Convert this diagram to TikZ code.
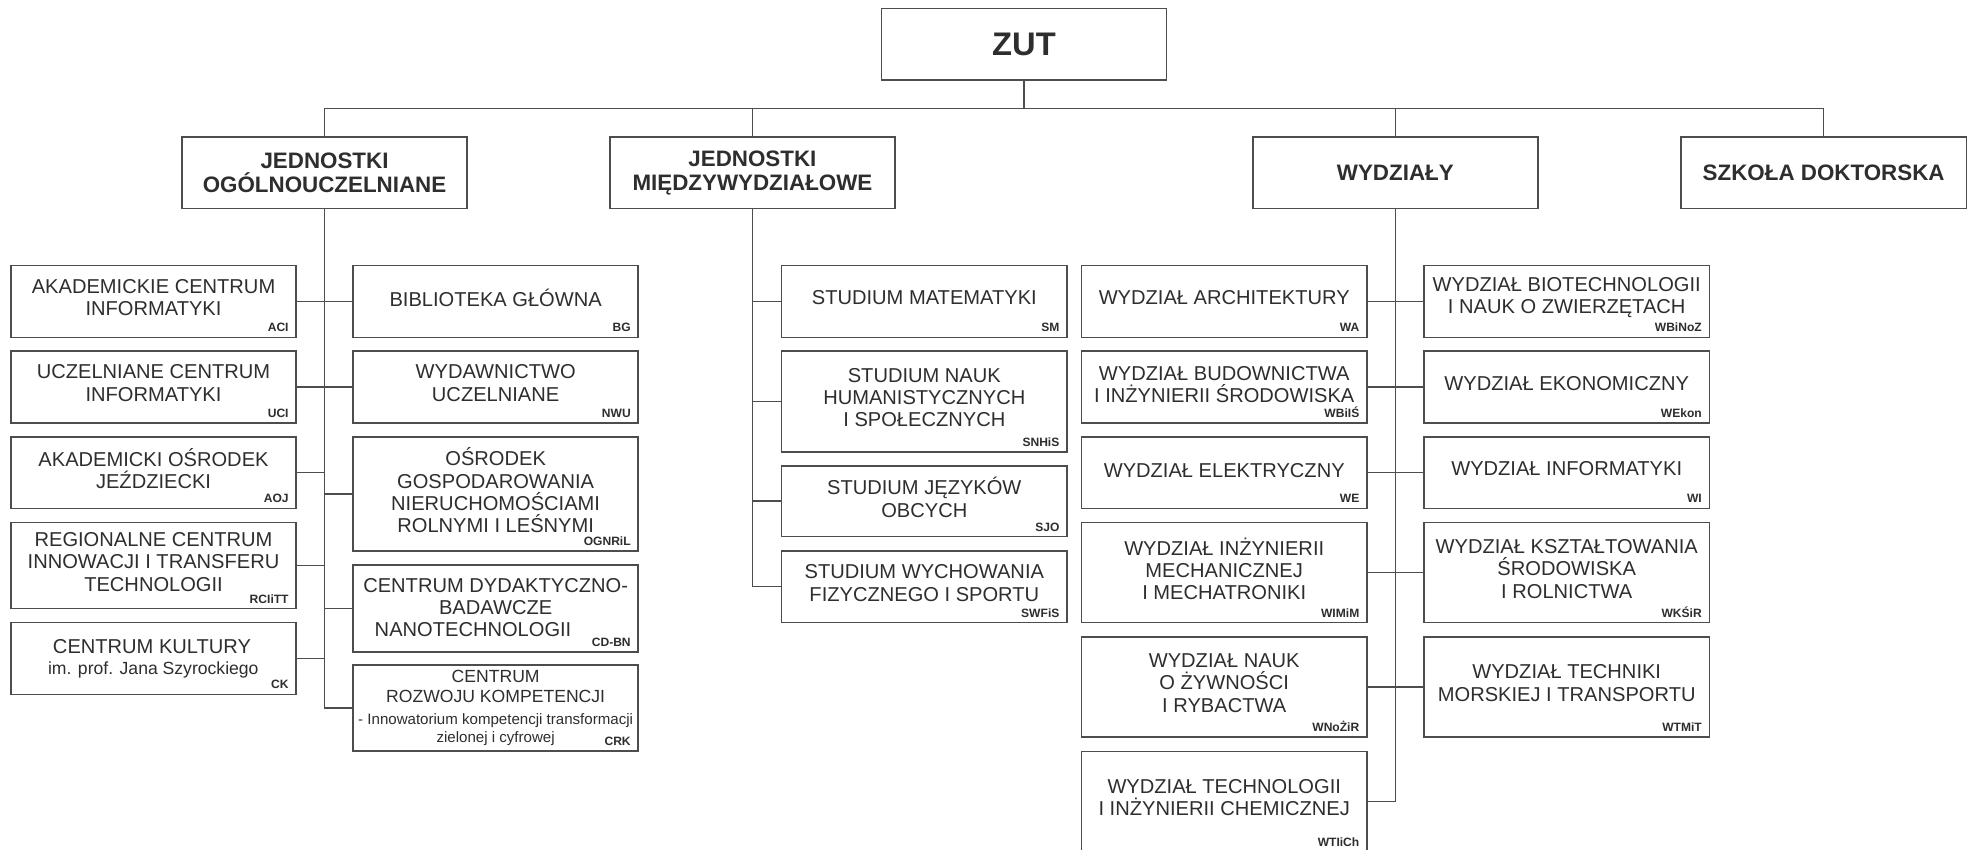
\documentclass[tikz,border=0pt]{standalone}
\usepackage{fontspec}
\setmainfont{Liberation Sans}
\definecolor{linec}{HTML}{4D4D4D}
\definecolor{textc}{HTML}{2E2E2E}
\tikzset{
  orgbox/.style={draw=linec, line width=0.6pt, fill=white, minimum width=113.5pt, inner sep=0pt},
  orgtext/.style={align=center, text=textc, inner sep=0pt, font=\fontsize{8}{8.9}\selectfont},
  orgabbr/.style={text=textc, inner sep=0pt, anchor=base east, font=\bfseries\fontsize{4.8}{5}\selectfont},
  headtext/.style={align=center, text=textc, font=\bfseries\fontsize{8.9}{9.5}\selectfont},
  conn/.style={draw=linec, line width=0.6pt},
}
\newcommand{\orgunit}[7][1.5pt]{%
  \node[orgbox, minimum height=#5] (#2) at (#3,#4) {};
  \node[orgtext] (#2-t) at ([yshift=#1]#2.center) {#6};
  \node[orgabbr] (#2-a) at ([xshift=-3.1pt,yshift=2.5pt]#2.south east) {#7};
}
\begin{document}
\begin{tikzpicture}[x=0.5pt,y=-0.5pt]
\fill[white] (0,0) rectangle (1568,676);
\useasboundingbox (0,0) rectangle (1568,676);

% top level
\node[orgbox, minimum height=28.5pt, text=textc, font=\bfseries\fontsize{13}{14}\selectfont] (zut) at (815,35.15) {ZUT};
\node[orgbox, minimum height=28.5pt, headtext] (jo) at (258.3,137.5) {JEDNOSTKI\\OGÓLNOUCZELNIANE};
\node[orgbox, minimum height=28.5pt, headtext] (jm) at (598.9,137.5) {JEDNOSTKI\\MIĘDZYWYDZIAŁOWE};
\node[orgbox, minimum height=28.5pt, headtext] (wy) at (1110.6,137.5) {WYDZIAŁY};
\node[orgbox, minimum height=28.5pt, headtext] (sd) at (1451.5,137.5) {SZKOŁA DOKTORSKA};
\coordinate (bus) at (0,86.3);

% column A
\orgunit{aci}{122.2}{240}{28.5pt}{AKADEMICKIE CENTRUM\\INFORMATYKI}{ACI}
\orgunit{uci}{122.2}{308}{28.5pt}{UCZELNIANE CENTRUM\\INFORMATYKI}{UCI}
\orgunit{aoj}{122.2}{376.2}{28.5pt}{AKADEMICKI OŚRODEK\\JEŹDZIECKI}{AOJ}
\orgunit{rci}{122.2}{450.2}{34.15pt}{REGIONALNE CENTRUM\\INNOWACJI I TRANSFERU\\TECHNOLOGII}{RCIiTT}
\node[orgbox, minimum height=28.5pt] (ck) at (122.2,524.1) {};
\node[orgtext] (ck-t1) at (121,514.8) {CENTRUM KULTURY};
\node[orgtext, font=\fontsize{7}{8}\selectfont] (ck-t2) at (122,533.4) {im. prof. Jana Szyrockiego};
\node[orgabbr] (ck-a) at ([xshift=-3.1pt,yshift=2.5pt]ck.south east) {CK};

% column B
\orgunit{bg}{394.5}{240}{28.5pt}{BIBLIOTEKA GŁÓWNA}{BG}
\orgunit{nwu}{394.5}{308}{28.5pt}{WYDAWNICTWO\\UCZELNIANE}{NWU}
\orgunit[1.4pt]{og}{394.5}{393.2}{45.5pt}{OŚRODEK\\GOSPODAROWANIA\\NIERUCHOMOŚCIAMI\\ROLNYMI I LEŚNYMI}{OGNRiL}
\orgunit[0.4pt]{cdbn}{394.5}{484.3}{34.5pt}{CENTRUM DYDAKTYCZNO-\\BADAWCZE\\NANOTECHNOLOGII\hspace*{18pt}}{CD-BN}
\node[orgbox, minimum height=34.15pt] (crk) at (394.5,563.5) {};
\node[orgtext, font=\fontsize{7}{8}\selectfont] (crk-t1) at (394.5,546.6) {CENTRUM\\ROZWOJU KOMPETENCJI};
\node[orgtext, font=\fontsize{6}{7.15}\selectfont] (crk-t2) at (394.5,580.5) {- Innowatorium kompetencji transformacji\\zielonej i cyfrowej};
\node[orgabbr] (crk-a) at ([xshift=-3.1pt,yshift=2.5pt]crk.south east) {CRK};

% column C
\orgunit{sm}{735.7}{240}{28.5pt}{STUDIUM MATEMATYKI}{SM}
\orgunit{snhis}{735.7}{319.5}{40.1pt}{STUDIUM NAUK\\HUMANISTYCZNYCH\\I SPOŁECZNYCH}{SNHiS}
\orgunit{sjo}{735.7}{398.9}{28.2pt}{STUDIUM JĘZYKÓW\\OBCYCH}{SJO}
\orgunit{swfis}{735.7}{467}{28.5pt}{STUDIUM WYCHOWANIA\\FIZYCZNEGO I SPORTU}{SWFiS}

% column D
\orgunit{wa}{974.4}{240}{28.5pt}{WYDZIAŁ ARCHITEKTURY}{WA}
\orgunit[1pt]{wbis}{974.4}{308}{28.5pt}{WYDZIAŁ BUDOWNICTWA\\I INŻYNIERII ŚRODOWISKA}{WBiIŚ}
\orgunit[1pt]{we}{974.4}{376.2}{28.5pt}{WYDZIAŁ ELEKTRYCZNY}{WE}
\orgunit{wimim}{974.4}{455.8}{39.8pt}{WYDZIAŁ INŻYNIERII\\MECHANICZNEJ\\I MECHATRONIKI}{WIMiM}
\orgunit{wnozir}{974.4}{546.7}{39.8pt}{WYDZIAŁ NAUK\\O ŻYWNOŚCI\\I RYBACTWA}{WNoŻiR}
\orgunit{wtiich}{974.4}{638}{40pt}{WYDZIAŁ TECHNOLOGII\\I INŻYNIERII CHEMICZNEJ}{WTIiCh}

% column E
\orgunit{wbinoz}{1247}{240}{28.5pt}{WYDZIAŁ BIOTECHNOLOGII\\I NAUK O ZWIERZĘTACH}{WBiNoZ}
\orgunit{wekon}{1247}{308}{28.5pt}{WYDZIAŁ EKONOMICZNY}{WEkon}
\orgunit{wi}{1247}{376.2}{28.5pt}{WYDZIAŁ INFORMATYKI}{WI}
\orgunit{wksir}{1247}{455.8}{39.8pt}{WYDZIAŁ KSZTAŁTOWANIA\\ŚRODOWISKA\\I ROLNICTWA}{WKŚiR}
\orgunit{wtmit}{1247}{546.7}{39.8pt}{WYDZIAŁ TECHNIKI\\MORSKIEJ I TRANSPORTU}{WTMiT}

% connectors: top level
\draw[conn] (zut.south) -- (zut.south |- bus);
\draw[conn] (jo.north) |- (sd.north |- bus) -- (sd.north);
\draw[conn] (jm.north) -- (jm.north |- bus);
\draw[conn] (wy.north) -- (wy.north |- bus);

% jednostki ogolnouczelniane
\draw[conn] (jo.south) |- (crk.west);
\draw[conn] (aci.east) -- (bg.west);
\draw[conn] (uci.east) -- (nwu.west);
\draw[conn] (aoj.east) -- (aoj.east -| jo.south);
\draw[conn] (og.west) -- (og.west -| jo.south);
\draw[conn] (rci.east) -- (rci.east -| jo.south);
\draw[conn] (cdbn.west) -- (cdbn.west -| jo.south);
\draw[conn] (ck.east) -- (ck.east -| jo.south);

% jednostki miedzywydzialowe
\draw[conn] (jm.south) |- (swfis.west);
\draw[conn] (sm.west) -- (sm.west -| jm.south);
\draw[conn] (snhis.west) -- (snhis.west -| jm.south);
\draw[conn] (sjo.west) -- (sjo.west -| jm.south);

% wydzialy
\draw[conn] (wy.south) |- (wtiich.east);
\draw[conn] (wa.east) -- (wbinoz.west);
\draw[conn] (wbis.east) -- (wekon.west);
\draw[conn] (we.east) -- (wi.west);
\draw[conn] (wimim.east) -- (wksir.west);
\draw[conn] (wnozir.east) -- (wtmit.west);
\end{tikzpicture}
\end{document}
